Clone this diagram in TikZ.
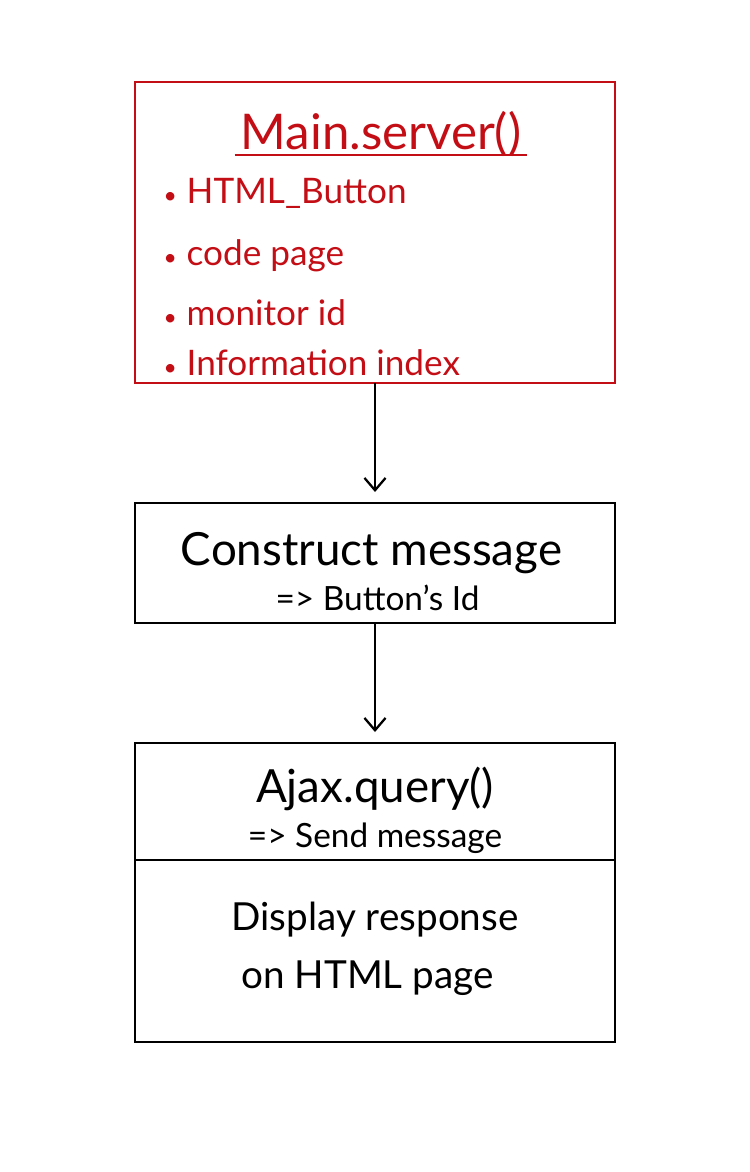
\documentclass[tikz,border=0pt]{standalone}
\usepackage{fontspec}
\setmainfont{Lato}
\usepackage{xcolor}
\usetikzlibrary{arrows.meta, positioning, calc}
\definecolor{serverred}{RGB}{196,14,22}

\begin{document}
\begin{tikzpicture}[
  box/.style={draw, line width=1.3pt, minimum width=9.6cm, inner sep=0pt, outer sep=0pt},
  title/.style={anchor=base, font=\fontsize{26}{30}\selectfont},
  sub/.style={anchor=base, font=\fontsize{19}{22}\selectfont},
  disp/.style={anchor=base, font=\fontsize{22}{26}\selectfont},
  item/.style={anchor=base west, text=serverred, font=\fontsize{20}{24}\selectfont},
  flow/.style={draw, line width=1.3pt, -{Straight Barb[length=7pt,width=12pt]}, shorten >=0.22cm}
]
\useasboundingbox (0,0) rectangle (14.98,-23.44);

% the four boxes
\node[box, draw=serverred, minimum height=6.02cm] (server) at (7.5,-4.65) {};
\node[box, minimum height=2.4cm, below=2.4cm of server] (construct) {};
\node[box, minimum height=2.34cm, below=2.4cm of construct] (ajax) {};
\node[box, minimum height=3.64cm, below=0pt of ajax] (display) {};

% server contents
\node[title, text=serverred, font=\fontsize{28}{32}\selectfont] (srvtitle) at ($(server.north)+(0.12,-1.36)$) {Main.server()};
\draw[serverred, line width=1.1pt] ([yshift=-3pt]srvtitle.base west) -- ([yshift=-3pt]srvtitle.base east);
\foreach \txt/\dy [count=\i] in {HTML\_Button/2.42, code page/3.66, monitor id/4.86, Information index/5.86}
  \node[item] (item\i) at ($(server.north west)+(0.45,-\dy)$)
    {\makebox[0.46cm][l]{\fontsize{13}{13}\selectfont\textbullet}\txt};

% message and query
\node[title] (constructtxt) at ($(construct.north)+(-0.07,-1.24)$) {Construct message};
\node[sub] (constructsub) at ($(construct.north)+(0.05,-2.14)$) {=> Button's Id};
\node[title] (ajaxtxt) at ($(ajax.north)+(0,-1.18)$) {Ajax.query()};
\node[sub] (ajaxsub) at ($(ajax.north)+(0,-2.08)$) {=> Send message};
\node[disp] (disptxt) at ($(display.north)+(0,-1.4)$) {Display response};
\node[disp] (dispsub) at ($(display.north)+(-0.15,-2.56)$) {on HTML page};

\draw[flow] (server) -- (construct);
\draw[flow] (construct) -- (ajax);
\end{tikzpicture}
\end{document}
